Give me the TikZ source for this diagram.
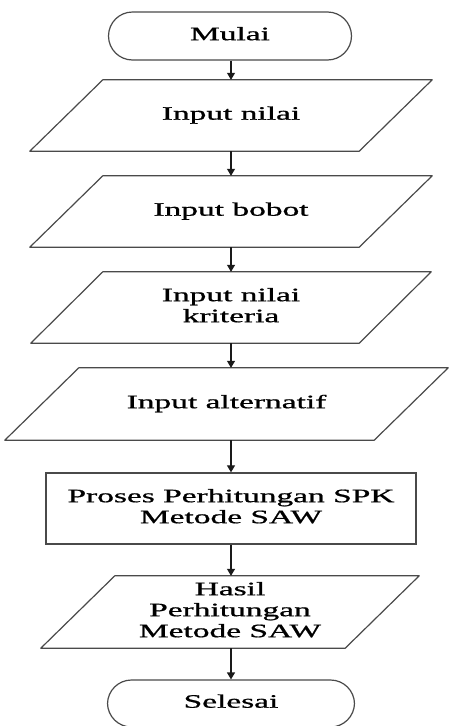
\documentclass[tikz,border=0pt]{standalone}
\usepackage{fontspec}
\setmainfont{Liberation Serif}[FakeBold=0.7]
\usepackage{graphicx}
\usetikzlibrary{arrows.meta}
\definecolor{edgegray}{HTML}{4A4A4A}
\definecolor{flowgray}{HTML}{1A1A1A}
% wide serif lettering, centred lines
\newcommand{\widetext}[1]{\scalebox{1.76}[1]{\begin{tabular}{@{}c@{}}#1\end{tabular}}}
\tikzset{
  lbl/.style={font=\fontsize{19}{21}\selectfont, inner sep=0pt, text=black},
  term/.style={lbl, draw=edgegray, line width=1.2pt, rounded corners=24pt},
  procbox/.style={lbl, draw=edgegray, line width=1.3pt, minimum width=370pt, minimum height=71pt},
  iobox/.style={lbl, minimum height=71pt},
  ioedge/.style={draw=edgegray, line width=1.2pt, line join=round},
  flow/.style={draw=flowgray, line width=1.2pt, -{Triangle[length=7pt,width=8pt]}}
}
\begin{document}
\begin{tikzpicture}[x=1pt,y=-1pt]
\useasboundingbox (0,0) rectangle (449,726);

% terminals and process step
\node[term, minimum width=243pt, minimum height=48pt] (start) at (230,36) {\widetext{Mulai}};
\node[procbox] (proc) at (231,508.5) {\widetext{Proses Perhitungan SPK\\Metode SAW}};
\node[term, minimum width=247pt, minimum height=47pt] (stop) at (231,703.5) {\widetext{Selesai}};

% input/output steps (parallelogram outlines drawn below)
\node[iobox, minimum width=402pt] (in1) at (231,115.5) {\widetext{Input nilai}};
\node[iobox, minimum width=402pt] (in2) at (231,211.5) {\widetext{Input bobot}};
\node[iobox, minimum width=400pt] (in3) at (231,307.5) {\widetext{Input nilai\\kriteria}};
\node[iobox, minimum width=443pt, minimum height=72pt] (in4) at (226.5,404) {\widetext{Input alternatif}};
\node[iobox, minimum width=378pt, minimum height=72pt] (out) at (230,612) {\widetext{Hasil\\Perhitungan\\Metode SAW}};

\foreach \n/\s in {in1/73, in2/73, in3/72, in4/74, out/74}{
  \draw[ioedge] ([xshift=\s pt]\n.north west) -- (\n.north east)
    -- ([xshift=-\s pt]\n.south east) -- (\n.south west) -- cycle;
}

% flow connectors
\draw[flow] (in1.north |- start.south) -- (in1.north);
\draw[flow] (in1.south) -- (in2.north);
\draw[flow] (in2.south) -- (in3.north);
\draw[flow] (in3.south) -- (in3.south |- in4.north);
\draw[flow] (proc.north |- in4.south) -- (proc.north);
\draw[flow] (proc.south) -- (proc.south |- out.north);
\draw[flow] (proc.south |- out.south) -- (proc.south |- stop.north);
\end{tikzpicture}
\end{document}
